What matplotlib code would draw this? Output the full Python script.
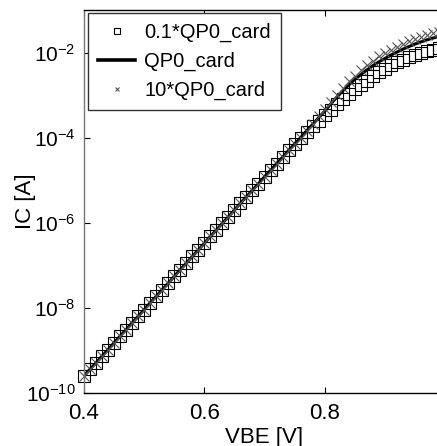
import numpy as np
import matplotlib
matplotlib.use("Agg")
import matplotlib.pyplot as plt
from matplotlib.ticker import FixedLocator, FuncFormatter, NullLocator

# Gummel plot: collector current for three QP0 card settings
vbe = [0.40, 0.41, 0.42, 0.43, 0.44, 0.45, 0.46, 0.47, 0.48, 0.49,
       0.50, 0.51, 0.52, 0.53, 0.54, 0.55, 0.56, 0.57, 0.58, 0.59,
       0.60, 0.61, 0.62, 0.63, 0.64, 0.65, 0.66, 0.67, 0.68, 0.69,
       0.70, 0.71, 0.72, 0.73, 0.74, 0.75, 0.76, 0.77, 0.78, 0.79,
       0.80, 0.81, 0.82, 0.83, 0.84, 0.85, 0.86, 0.87, 0.88, 0.89,
       0.90, 0.91, 0.92, 0.93, 0.94, 0.95, 0.96, 0.97, 0.98, 0.99, 1.00]

# log10(IC) values
log_ic_qp0 = [-9.60, -9.44, -9.29, -9.13, -8.98, -8.82, -8.66, -8.51, -8.35, -8.20,
              -8.04, -7.88, -7.73, -7.57, -7.42, -7.26, -7.10, -6.95, -6.79, -6.64,
              -6.48, -6.32, -6.17, -6.01, -5.86, -5.70, -5.54, -5.39, -5.23, -5.08,
              -4.92, -4.77, -4.61, -4.46, -4.30, -4.15, -4.00, -3.84, -3.69, -3.53,
              -3.38, -3.21, -3.05, -2.90, -2.76, -2.63, -2.52, -2.41, -2.31, -2.22,
              -2.14, -2.06, -1.99, -1.92, -1.86, -1.80, -1.75, -1.70, -1.66, -1.62, -1.58]

log_ic_low = [-9.60, -9.44, -9.29, -9.13, -8.98, -8.82, -8.66, -8.51, -8.35, -8.20,
              -8.04, -7.88, -7.73, -7.57, -7.42, -7.26, -7.10, -6.95, -6.79, -6.64,
              -6.48, -6.32, -6.17, -6.01, -5.86, -5.70, -5.54, -5.39, -5.23, -5.08,
              -4.92, -4.77, -4.61, -4.46, -4.30, -4.15, -4.00, -3.86, -3.73, -3.60,
              -3.47, -3.34, -3.21, -3.09, -2.97, -2.86, -2.76, -2.66, -2.55, -2.46,
              -2.38, -2.30, -2.23, -2.17, -2.11, -2.06, -2.01, -1.97, -1.93, -1.89, -1.86]

log_ic_high = [-9.60, -9.44, -9.29, -9.13, -8.98, -8.82, -8.66, -8.51, -8.35, -8.20,
               -8.04, -7.88, -7.73, -7.57, -7.42, -7.26, -7.10, -6.95, -6.79, -6.64,
               -6.48, -6.32, -6.17, -6.01, -5.86, -5.70, -5.54, -5.39, -5.23, -5.08,
               -4.92, -4.77, -4.61, -4.46, -4.30, -4.15, -4.00, -3.84, -3.67, -3.50,
               -3.33, -3.16, -2.99, -2.83, -2.68, -2.54, -2.42, -2.30, -2.19, -2.09,
               -2.01, -1.93, -1.86, -1.79, -1.73, -1.68, -1.63, -1.58, -1.54, -1.51, -1.48]

labels = ["0.1*QP0_card", "QP0_card", "10*QP0_card"]
y_ticks = [1e-10, 1e-8, 1e-6, 1e-4, 1e-2]
x_ticks = [0.4, 0.6, 0.8]

plt.rcParams['font.family'] = ['Liberation Sans', 'DejaVu Sans']
plt.rcParams['mathtext.fontset'] = 'custom'
plt.rcParams['mathtext.rm'] = 'Liberation Sans'
plt.rcParams['mathtext.it'] = 'Liberation Sans'

W, H = 437, 446
fig = plt.figure(figsize=(W / 100, H / 100), dpi=100)
# axis box runs slightly past the right edge of the image
ax = fig.add_axes([84 / W, (H - 393) / H, 361 / W, 383 / H])

ic_low = 10 ** np.array(log_ic_low)
ic_mid = 10 ** np.array(log_ic_qp0)
ic_high = 10 ** np.array(log_ic_high)

ax.semilogy(vbe, ic_low, linestyle='none', marker='s', markersize=8.3,
            markerfacecolor='none', markeredgecolor='black', markeredgewidth=0.8,
            clip_on=False, label=labels[0])
ax.semilogy(vbe, ic_mid, color='black', linewidth=2.2, label=labels[1])
ax.semilogy(vbe, ic_high, linestyle='none', marker='x', markersize=6.5,
            markeredgecolor='#555555', markeredgewidth=0.8,
            clip_on=False, label=labels[2])

ax.set_xlim(0.4, 1.0)
ax.set_ylim(1e-10, 1e-1)
ax.xaxis.set_major_locator(FixedLocator(x_ticks))
ax.yaxis.set_major_locator(FixedLocator(y_ticks))
ax.yaxis.set_minor_locator(NullLocator())
ax.xaxis.set_major_formatter(FuncFormatter(lambda v, p: f"{v:.1f}"))
ax.yaxis.set_major_formatter(
    FuncFormatter(lambda v, p: r"$10^{%d}$" % int(round(np.log10(v)))))

ax.tick_params(direction='in', length=4, width=0.8, top=True, right=True,
               labelsize=16, colors='black')
ax.tick_params(axis='x', pad=7)
ax.tick_params(axis='y', pad=6, labelsize=15)
for side in ['top', 'bottom', 'right']:
    ax.spines[side].set_color('black')
    ax.spines[side].set_linewidth(1.0)
ax.spines['left'].set_color('#777777')
ax.spines['left'].set_linewidth(1.0)

ax.set_xlabel('VBE [V]', fontsize=16, labelpad=2)
ax.text(26, H - 201, 'IC [A]', transform=None, rotation=90,
        ha='center', va='center', fontsize=16)

leg = ax.legend(loc='upper left', bbox_to_anchor=(0.011, 0.992), fontsize=14.5,
                frameon=True, fancybox=False, framealpha=1, borderaxespad=0,
                handlelength=1.85, handletextpad=0.45, labelspacing=0.48,
                borderpad=0.5, markerscale=0.55)
leg.get_frame().set_edgecolor('#333333')
leg.get_frame().set_linewidth(1.0)
for h in leg.get_lines():
    if h.get_linestyle() == '-':
        h.set_linewidth(2.6)

fig.savefig('out.png', dpi=100)
